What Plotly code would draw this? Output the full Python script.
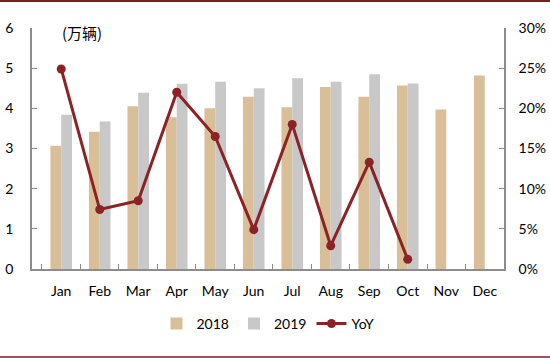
import plotly.graph_objects as go

months = ["Jan", "Feb", "Mar", "Apr", "May", "Jun", "Jul", "Aug", "Sep", "Oct", "Nov", "Dec"]
sales_2018 = [3.07, 3.42, 4.05, 3.78, 4.00, 4.29, 4.03, 4.53, 4.29, 4.57, 3.97, 4.82]
sales_2019 = [3.84, 3.67, 4.39, 4.61, 4.66, 4.50, 4.75, 4.66, 4.85, 4.62, None, None]
yoy = [0.249, 0.074, 0.085, 0.220, 0.165, 0.049, 0.180, 0.029, 0.133, 0.012]

font = "Lato, 'Noto Sans CJK SC', sans-serif"
axis_col = "#8c8c8c"

fig = go.Figure()
fig.add_trace(go.Bar(x=months, y=sales_2018, name="2018", marker=dict(color="#D9BF98", line=dict(width=0))))
fig.add_trace(go.Bar(x=months, y=sales_2019, name="2019", marker=dict(color="#C8C8C8", line=dict(width=0))))
fig.add_trace(go.Scatter(x=months[:len(yoy)], y=yoy, name="YoY", yaxis="y2", mode="lines+markers",
                         line=dict(color="#8B2226", width=3), marker=dict(size=9, color="#8B2226")))

fig.update_layout(
    width=550, height=358,
    margin=dict(l=32, r=46, t=28, b=89),
    paper_bgcolor="white", plot_bgcolor="white",
    font=dict(family=font, size=14, color="#000000"),
    barmode="group", bargap=0.44, bargroupgap=0,
    showlegend=True,
    legend=dict(orientation="h", x=0.5, xanchor="center", y=-0.228, yanchor="middle",
                font=dict(size=14), traceorder="normal"),
    xaxis=dict(type="category", showline=True, linecolor=axis_col, linewidth=1.5,
               ticks="inside", tickson="boundaries", ticklen=5, tickcolor=axis_col,
               showgrid=False, tickfont=dict(size=14), automargin=False, ticklabelstandoff=8),
    yaxis=dict(range=[0, 6], dtick=1, showline=True, linecolor=axis_col, linewidth=1.5,
               ticks="inside", ticklen=5, tickcolor=axis_col, showgrid=False, zeroline=False,
               tickfont=dict(size=14), automargin=False, ticklabelstandoff=14),
    yaxis2=dict(range=[0, 0.30], dtick=0.05, tickformat=".0%", overlaying="y", side="right",
                showline=True, linecolor=axis_col, linewidth=1.5, ticks="inside", ticklen=5,
                tickcolor=axis_col, showgrid=False, zeroline=False, tickfont=dict(size=14),
                automargin=False, ticklabelstandoff=10),
    annotations=[dict(text="(万辆)", xref="paper", yref="paper", x=0.059, y=0.983, xanchor="left",
                      yanchor="middle", showarrow=False, font=dict(size=15, family="'Noto Sans CJK SC'"))],
    shapes=[
        dict(type="line", xref="paper", yref="paper", x0=-0.07, x1=1.1, y0=1.112, y1=1.112,
             line=dict(color="#7B1E22", width=2)),
        dict(type="line", xref="paper", yref="paper", x0=-0.07, x1=1.1, y0=-0.365, y1=-0.365,
             line=dict(color="#7B1E22", width=1.5)),
    ],
)

fig.write_html("out.html", config={"displayModeBar": False},
               post_script="document.body.style.margin='0px';")
